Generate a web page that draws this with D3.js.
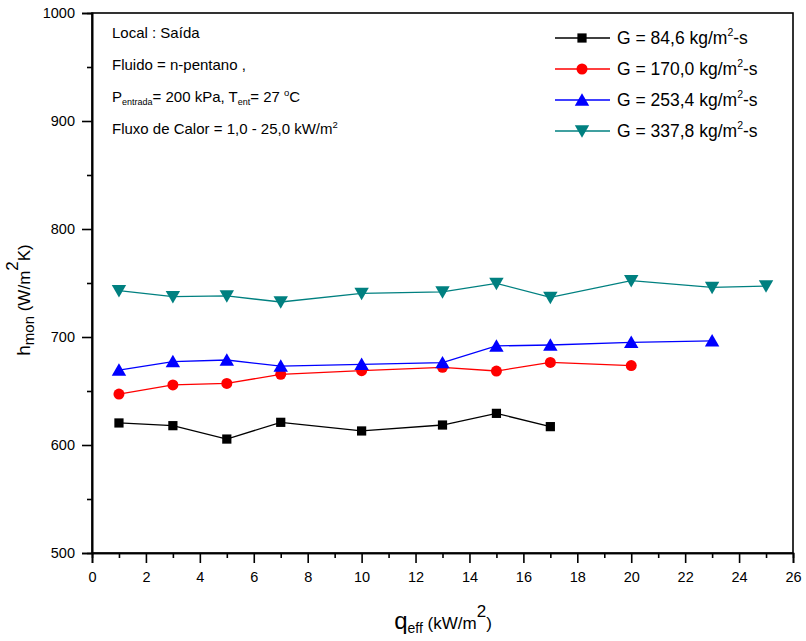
<!DOCTYPE html>
<html><head><meta charset="utf-8">
<script src="https://cdn.jsdelivr.net/npm/d3@7"></script>
<style>body{margin:0;background:#fff}svg{display:block}text{font-family:"Liberation Sans",Arial,sans-serif;fill:#000}</style>
</head><body>
<svg id="c" width="806" height="641"></svg>
<script>
const xTicks = [0,2,4,6,8,10,12,14,16,18,20,22,24,26];
const yTicks = [500,600,700,800,900,1000];
const seriesNames = ["G = 84,6 kg/m", "G = 170,0 kg/m", "G = 253,4 kg/m", "G = 337,8 kg/m"];
const seriesColors = ["#000000","#ff0000","#0000ff","#008080"];
const seriesSymbols = ["square","circle","triangle","triangleDown"];
const q1 = [1,3,5,7,10,13,15,17];
const h1 = [620.4,617.9,605.5,621,613,618.5,629.3,617];
const q2 = [1,3,5,7,10,13,15,17,20];
const h2 = [647.2,655.6,657,665.4,668.8,671.9,668.5,676.5,673.5];
const q3 = [1,3,5,7,10,13,15,17,20,23];
const h3 = [669.4,677.2,678.7,673,674.7,676.2,691.7,692.6,695,696.5];
const q4 = [1,3,5,7,10,13,15,17,20,23,25];
const h4 = [742.9,737.4,738,732.4,740.4,741.7,749.7,736.7,752.2,746,747.2];
const annotLines = ["Local : Saída","Fluido = n-pentano ,","P","Fluxo de Calor = 1,0 - 25,0 kW/m"];

const xs = [q1,q2,q3,q4], ys=[h1,h2,h3,h4];
const svg = d3.select("#c");
const L=92,R=793,T=13,B=553;
const x = d3.scaleLinear().domain([0,26]).range([L,R]);
const y = d3.scaleLinear().domain([500,1000]).range([B,T]);

// frame
svg.append("rect").attr("x",L).attr("y",T).attr("width",R-L).attr("height",B-T)
  .attr("fill","none").attr("stroke","#000").attr("stroke-width",1.6);

// x axis
const gx = svg.append("g").attr("transform",`translate(0,${B})`)
  .call(d3.axisBottom(x).tickValues(xTicks).tickSize(10).tickPadding(5).tickFormat(d3.format("d")));
const gxm = svg.append("g").attr("transform",`translate(0,${B})`)
  .call(d3.axisBottom(x).tickValues(d3.range(1,26,2)).tickSize(5).tickFormat(""));
// y axis
const gy = svg.append("g").attr("transform",`translate(${L},0)`)
  .call(d3.axisLeft(y).tickValues(yTicks).tickSize(10).tickPadding(7).tickFormat(d3.format("d")));
const gym = svg.append("g").attr("transform",`translate(${L},0)`)
  .call(d3.axisLeft(y).tickValues(d3.range(550,1000,100)).tickSize(5).tickFormat(""));
[gx,gxm,gy,gym].forEach(g=>{
  g.select(".domain").attr("stroke","#000").attr("stroke-width",1.6);
  g.selectAll(".tick line").attr("stroke","#000").attr("stroke-width",1.6);
  g.selectAll(".tick text").attr("font-size",14.5).attr("font-family",'"Liberation Sans",Arial,sans-serif').attr("fill","#000");
});
gx.selectAll(".tick text").attr("dy","0.95em");

function symbolPath(kind){
  if(kind==="square") return d3.symbol(d3.symbolSquare,85)();
  if(kind==="circle") return d3.symbol(d3.symbolCircle,95)();
  return d3.symbol(d3.symbolTriangle,90)();
}
function drawSym(g,kind,cx,cy,color){
  const off = kind==="triangle"?1.5:(kind==="triangleDown"?-1.5:0);
  g.append("path").attr("d",symbolPath(kind)).attr("fill",color)
    .attr("transform",`translate(${cx},${cy+off})`+(kind==="triangleDown"?" rotate(180)":""));
}

const line = d3.line().x(d=>x(d[0])).y(d=>y(d[1]));
xs.forEach((qs,i)=>{
  const pts = qs.map((q,j)=>[q,ys[i][j]]);
  svg.append("path").datum(pts).attr("d",line).attr("fill","none")
    .attr("stroke",seriesColors[i]).attr("stroke-width",1.3);
  const g = svg.append("g");
  pts.forEach(p=>drawSym(g,seriesSymbols[i],x(p[0]),y(p[1]),seriesColors[i]));
});

// legend
const lg = svg.append("g");
seriesNames.forEach((n,i)=>{
  const cy = 38 + i*31;
  lg.append("line").attr("x1",555).attr("x2",610).attr("y1",cy).attr("y2",cy)
    .attr("stroke",seriesColors[i]).attr("stroke-width",1.3);
  drawSym(lg,seriesSymbols[i],582,cy,seriesColors[i]);
  const t = lg.append("text").attr("x",617).attr("y",cy+6).attr("font-size",17.5);
  t.append("tspan").text(n);
  t.append("tspan").attr("font-size",10.5).attr("dy",-8).text("2");
  t.append("tspan").attr("dy",8).text("-s");
});

// annotation
const ag = svg.append("g");
ag.append("text").attr("x",112).attr("y",38).attr("font-size",15).text(annotLines[0]);
ag.append("text").attr("x",112).attr("y",70).attr("font-size",15).text(annotLines[1]);
const pt = ag.append("text").attr("x",112).attr("y",102).attr("font-size",15);
pt.append("tspan").text(annotLines[2]);
pt.append("tspan").attr("font-size",9).attr("dy",3).text("entrada");
pt.append("tspan").attr("dy",-3).text("= 200 kPa, T");
pt.append("tspan").attr("font-size",9).attr("dy",3).text("ent");
pt.append("tspan").attr("dy",-3).text("= 27 ");
pt.append("tspan").attr("font-size",9.5).attr("dy",-6).text("o");
pt.append("tspan").attr("dy",6).text("C");
const ft = ag.append("text").attr("x",112).attr("y",134).attr("font-size",15);
ft.append("tspan").text(annotLines[3]);
ft.append("tspan").attr("font-size",9.5).attr("dy",-6).text("2");

// x label
const xl = svg.append("text").attr("x",443).attr("y",629).attr("text-anchor","middle");
xl.append("tspan").attr("font-size",24).text("q");
xl.append("tspan").attr("font-size",14).attr("dy",4).text("eff");
xl.append("tspan").attr("font-size",17).attr("dy",-4).text(" (kW/m");
xl.append("tspan").attr("font-size",17).attr("dy",-12).text("2");
xl.append("tspan").attr("font-size",17).attr("dy",12).text(")");

// y label
const yl = svg.append("text").attr("transform","translate(30,300) rotate(-90)").attr("text-anchor","middle");
yl.append("tspan").attr("font-size",19).text("h");
yl.append("tspan").attr("font-size",15).attr("dy",4).text("mon");
yl.append("tspan").attr("font-size",17).attr("dy",-4).text(" (W/m");
yl.append("tspan").attr("font-size",17).attr("dy",-12).text("2");
yl.append("tspan").attr("font-size",17).attr("dy",12).text("K)");
</script>
</body></html>
